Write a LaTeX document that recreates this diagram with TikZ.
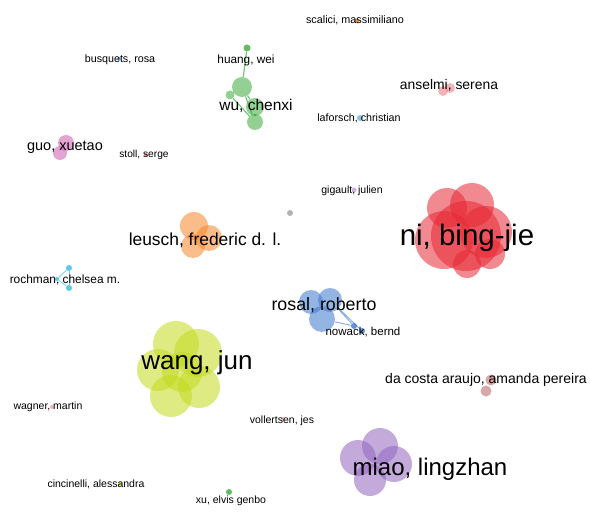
\documentclass[tikz,border=0pt]{standalone}
\usepackage{fontspec}
\setmainfont{Liberation Sans}
\definecolor{cred}{RGB}{230,40,52}
\definecolor{corange}{RGB}{245,135,40}
\definecolor{cgreen}{RGB}{60,170,60}
\definecolor{cblue}{RGB}{60,120,205}
\definecolor{cyel}{RGB}{195,218,30}
\definecolor{cpurple}{RGB}{145,100,190}
\definecolor{cbrown}{RGB}{185,95,95}
\definecolor{cmag}{RGB}{205,90,175}
\definecolor{ccyan}{RGB}{50,190,220}
\definecolor{cpink}{RGB}{235,120,130}
\definecolor{clblue}{RGB}{110,180,225}
\definecolor{cgrey}{RGB}{160,160,160}
\begin{document}
\begin{tikzpicture}[x=1pt,y=-1pt,
  bub/.style 2 args={circle, inner sep=0pt, minimum size=#2, fill=#1, fill opacity=0.55, draw=none},
  dot/.style 2 args={circle, inner sep=0pt, minimum size=#2, fill=#1, fill opacity=0.8, draw=none},
  lbl/.style={text=black, inner sep=0pt, font=\fontsize{#1}{#1}\selectfont},
  lnk/.style={draw=#1, line width=1.2pt, draw opacity=0.7}]
\useasboundingbox (0,0) rectangle (590,513);

% ---------- red cluster (ni, bing-jie)
\node[bub={cred}{70}] (r1) at (466,236) {};
\node[bub={cred}{58}] (r2) at (444,240) {};
\node[bub={cred}{52}] (r3) at (486,232) {};
\node[bub={cred}{40}] (r4) at (447,208) {};
\node[bub={cred}{44}] (r5) at (472,205) {};
\node[bub={cred}{30}] (r6) at (490,254) {};
\node[bub={cred}{28}] (r7) at (467,264) {};

% ---------- orange cluster (leusch)
\node[bub={corange}{28}] (o1) at (194,226) {};
\node[bub={corange}{26}] (o2) at (209,238) {};
\node[bub={corange}{24}] (o3) at (193,246) {};

% ---------- green cluster (wu, huang)
\node[dot={cgreen}{7}] (g1) at (247,48) {};
\node[bub={cgreen}{20}] (g2) at (242,87) {};
\node[bub={cgreen}{9}] (g3) at (230,95) {};
\node[bub={cgreen}{18}] (g4) at (255,107) {};
\node[bub={cgreen}{16}] (g5) at (255,122) {};
\draw[lnk=cgreen] (g1) -- (g2);
\draw[lnk=cgreen] (g2) -- (g4);
\draw[lnk=cgreen] (g2) -- (g3);
\draw[lnk=cgreen] (g3) -- (g5);
\draw[lnk=cgreen] (g4) -- (g5);
\draw[lnk=cgreen] (g2) -- (g5);

% ---------- blue cluster (rosal)
\node[bub={cblue}{24}] (b1) at (311,302) {};
\node[bub={cblue}{24}] (b2) at (330,300) {};
\node[bub={cblue}{26}] (b3) at (322,319) {};
\node[dot={cblue}{6}] (b4) at (354,326) {};
\node[dot={cblue}{6}] (b5) at (362,331) {};
\draw[lnk=cblue, line width=0.8pt] (b2) -- (b4);
\draw[lnk=cblue, line width=0.8pt] (b3) -- (b4);
\draw[lnk=cblue, line width=0.8pt] (b2) -- (b5);

% ---------- yellow-green cluster (wang)
\node[bub={cyel}{46}] (y1) at (176,344) {};
\node[bub={cyel}{48}] (y2) at (198,353) {};
\node[bub={cyel}{42}] (y3) at (158,370) {};
\node[bub={cyel}{42}] (y4) at (171,396) {};
\node[bub={cyel}{42}] (y5) at (199,387) {};
\node[bub={cyel}{40}] (y6) at (182,372) {};

% ---------- purple cluster (miao)
\node[bub={cpurple}{36}] (p1) at (380,446) {};
\node[bub={cpurple}{36}] (p2) at (358,458) {};
\node[bub={cpurple}{36}] (p3) at (394,464) {};
\node[bub={cpurple}{32}] (p4) at (370,480) {};

% ---------- cyan (rochman)
\node[dot={ccyan}{6}] (c1) at (69,268) {};
\node[dot={ccyan}{6}] (c2) at (69,288) {};
\node[dot={ccyan}{4}] (c3) at (57,279) {};
\draw[lnk=ccyan, line width=0.8pt] (c3) -- (c1);
\draw[lnk=ccyan, line width=0.8pt] (c3) -- (c2);
\draw[lnk=ccyan, line width=0.8pt] (c1) -- (c2);

% ---------- magenta (guo)
\node[bub={cmag}{16}] (m1) at (66,143) {};
\node[bub={cmag}{14}] (m2) at (60,153) {};

% ---------- brown (da costa)
\node[bub={cbrown}{11}] (d1) at (491,380) {};
\node[bub={cbrown}{11}] (d2) at (486,391) {};

% ---------- pink (anselmi)
\node[bub={cpink}{10}] (a1) at (443,91) {};
\node[bub={cpink}{10}] (a2) at (450,88) {};

% ---------- single small dots
\node[dot={corange}{5}] (s1) at (357,21) {};
\node[dot={clblue}{4}] (s2) at (119,59) {};
\node[dot={clblue}{6}] (s3) at (360,118) {};
\node[dot={cpink}{4}] (s4) at (146,155) {};
\node[dot={cpurple!60}{5}] (s5) at (354,190) {};
\node[dot={cgrey}{6}] (s6) at (290,213) {};
\node[dot={cpink!70}{4}] (s7) at (52,407) {};
\node[dot={cpink!70}{4}] (s8) at (283,419) {};
\node[dot={cyel}{4}] (s9) at (120,484) {};
\node[dot={cgreen}{6}] (s10) at (229,492) {};

% ---------- labels
\node[lbl=10.8] (t1) at (355,20) {scalici, massimiliano};
\node[lbl=10.7] (t2) at (120,60) {busquets, rosa};
\node[lbl=11.8] (t3) at (246,60) {huang, wei};
\node[lbl=15.5] (t4) at (256,106) {wu, chenxi};
\node[lbl=13.9] (t5) at (449,85) {anselmi, serena};
\node[lbl=10.7] (t6) at (359,118) {laforsch, christian};
\node[lbl=14.5] (t7) at (65,147) {guo, xuetao};
\node[lbl=10.2] (t8) at (144,155) {stoll, serge};
\node[lbl=10.5] (t9) at (352,191) {gigault, julien};
\node[lbl=29.5] (t10) at (467,238) {ni, bing-jie};
\node[lbl=17.4] (t11) at (205,240) {leusch, frederic d. l.};
\node[lbl=11.9] (t12) at (65,280) {rochman, chelsea m.};
\node[lbl=17.8] (t13) at (324,305) {rosal, roberto};
\node[lbl=11.5] (t14) at (363,332) {nowack, bernd};
\node[lbl=26] (t15) at (197,363) {wang, jun};
\node[lbl=14] (t16) at (486,380) {da costa araujo, amanda pereira};
\node[lbl=10.5] (t17) at (48,407) {wagner, martin};
\node[lbl=10.5] (t18) at (282,421) {vollertsen, jes};
\node[lbl=24] (t19) at (430,469) {miao, lingzhan};
\node[lbl=10.5] (t20) at (96,484) {cincinelli, alessandra};
\node[lbl=10.5] (t21) at (231,501) {xu, elvis genbo};
\end{tikzpicture}
\end{document}
